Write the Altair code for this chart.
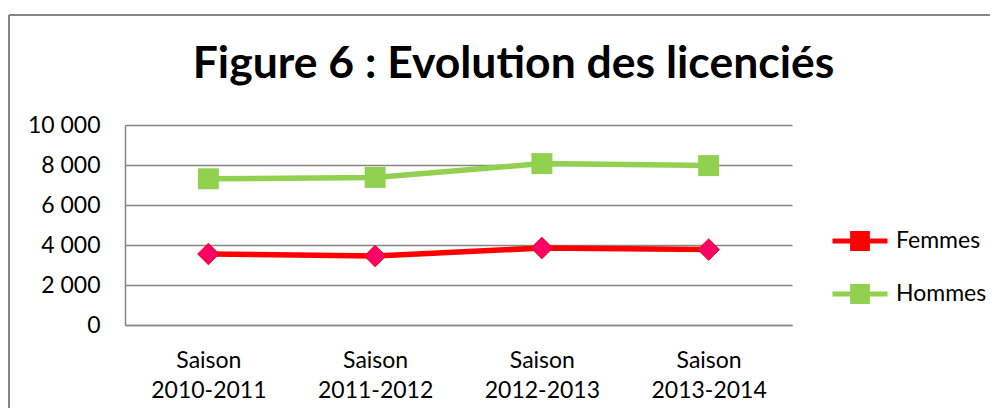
import altair as alt
import pandas as pd

seasons = ["Saison 2010-2011", "Saison 2011-2012", "Saison 2012-2013", "Saison 2013-2014"]
femmes = [3550, 3450, 3850, 3770]
hommes = [7310, 7380, 8070, 7970]
series = ["Femmes", "Hommes"]
y_ticks = [0, 2000, 4000, 6000, 8000, 10000]

rows = []
for s, f, h in zip(seasons, femmes, hommes):
    rows.append({"saison": s, "serie": "Femmes", "valeur": f})
    rows.append({"saison": s, "serie": "Hommes", "valeur": h})
df = pd.DataFrame(rows)

RED = "#FF0000"
PINK = "#FF0066"
GREEN = "#92D050"
FONT = "Lato"

x_enc = alt.X("saison:N", sort=seasons, title=None,
              scale=alt.Scale(paddingInner=0, paddingOuter=0),
              axis=alt.Axis(labelAngle=0, labelExpr="split(datum.label, ' ')",
                            labelLineHeight=30, labelPadding=24, ticks=False,
                            domainColor="#868686", domainWidth=1.5,
                            labelFontSize=23, labelFont=FONT, labelColor="#000000",
                            grid=False))
y_enc = alt.Y("valeur:Q", title=None,
              scale=alt.Scale(domain=[0, 10000], nice=False),
              axis=alt.Axis(values=y_ticks,
                            labelExpr="replace(format(datum.value, ','), ',', ' ')",
                            labelOverlap=False,
                            ticks=False, labelPadding=25, domainColor="#868686",
                            domainWidth=1.5, gridColor="#868686", gridWidth=1.5,
                            labelFontSize=23, labelFont=FONT, labelColor="#000000"))

# legend symbol: a thick line with a solid marker drawn by stacked strokes
legend_symbol = ("M-1,0 L1,0 M-0.36,-0.27 L0.36,-0.27 M-0.36,-0.09 L0.36,-0.09 "
                 "M-0.36,0.09 L0.36,0.09 M-0.36,0.27 L0.36,0.27")

leg = alt.Legend(title=None, orient="right", offset=-48, padding=86,
                 symbolType=legend_symbol, symbolSize=3025, symbolStrokeWidth=5,
                 labelFontSize=23, labelFont=FONT, labelColor="#000000",
                 labelOffset=6, rowPadding=5)

lines = alt.Chart(df).mark_line(strokeWidth=5.5).encode(
    x=x_enc, y=y_enc,
    color=alt.Color("serie:N", scale=alt.Scale(domain=series, range=[RED, GREEN]), legend=leg),
)

pts_f = alt.Chart(df).transform_filter(alt.datum.serie == "Femmes").mark_point(
    shape="diamond", filled=True, fill=PINK, stroke=RED, strokeWidth=1, size=460, opacity=1
).encode(x=x_enc, y=y_enc)

pts_h = alt.Chart(df).transform_filter(alt.datum.serie == "Hommes").mark_point(
    shape="square", filled=True, fill=GREEN, size=440, opacity=1
).encode(x=x_enc, y=y_enc)

frame_top = alt.Chart(alt.Data(values=[{}])).mark_rule(color="#868686", strokeWidth=2).encode(
    x=alt.value(-116), x2=alt.value(880), y=alt.value(-110))
frame_left = alt.Chart(alt.Data(values=[{}])).mark_rule(color="#868686", strokeWidth=2).encode(
    x=alt.value(-116), y=alt.value(-110), y2=alt.value(300))

chart = alt.layer(frame_top, frame_left, lines, pts_f, pts_h).properties(
    width=667, height=200,
    autosize=alt.AutoSizeParams(type="none"),
    padding={"left": 117, "top": 117, "right": 198, "bottom": 83},
    title=alt.TitleParams("Figure 6 : Evolution des licenciés", font=FONT, fontSize=44.5,
                          fontWeight="bold", color="#000000", anchor="middle", dx=55,
                          offset=0, baseline="alphabetic", dy=108),
).configure_view(stroke=None).configure_axis(labelFont=FONT)

chart.save("out.html", embed_options={"renderer": "svg", "actions": False})
